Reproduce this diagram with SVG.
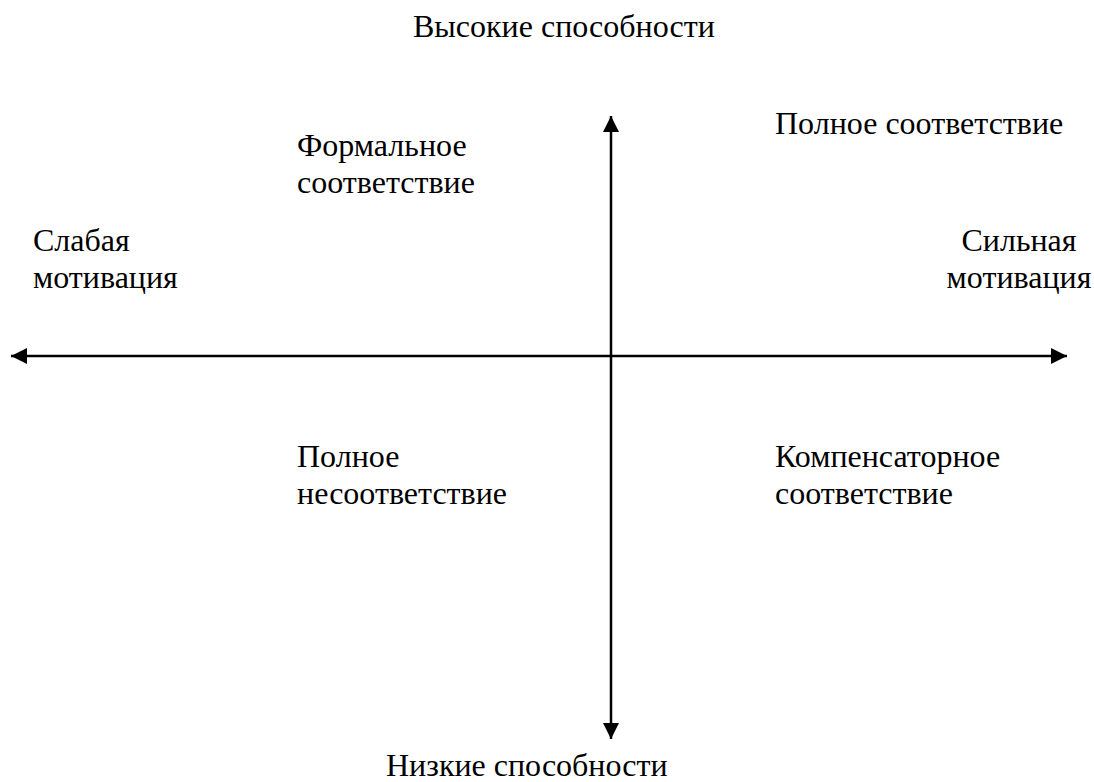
<svg xmlns="http://www.w3.org/2000/svg" width="1094" height="782" viewBox="0 0 1094 782">
  <style>
    text { font-family: "Liberation Serif", "Times New Roman", serif; font-size: 32px; fill: #000; }
    .axis { stroke: #000; stroke-width: 2.5; fill: none; }
  </style>
  <defs>
    <marker id="arrow" viewBox="0 0 16 16" refX="16" refY="8" markerWidth="16" markerHeight="16" markerUnits="userSpaceOnUse" orient="auto-start-reverse">
      <path d="M0,0 L16,8 L0,16 Z" fill="#000"/>
    </marker>
  </defs>
  <rect width="1094" height="782" fill="#fff"/>
  <g id="connectors">
    <line class="axis" x1="11" y1="356" x2="1067" y2="356" marker-start="url(#arrow)" marker-end="url(#arrow)"/>
    <line class="axis" x1="611" y1="116" x2="611" y2="739" marker-start="url(#arrow)" marker-end="url(#arrow)"/>
  </g>
  <g id="high"><text x="413" y="37">Высокие способности</text></g>
  <g id="low"><text x="386" y="776">Низкие способности</text></g>
  <g id="weak"><text x="33" y="251">Слабая</text><text x="33" y="288">мотивация</text></g>
  <g id="strong"><text x="1019" y="251" text-anchor="middle">Сильная</text><text x="1019" y="288" text-anchor="middle">мотивация</text></g>
  <g id="full"><text x="775" y="134">Полное соответствие</text></g>
  <g id="formal"><text x="297" y="156">Формальное</text><text x="297" y="193">соответствие</text></g>
  <g id="none"><text x="297" y="467">Полное</text><text x="297" y="504">несоответствие</text></g>
  <g id="comp"><text x="775" y="467">Компенсаторное</text><text x="775" y="504">соответствие</text></g>
</svg>
